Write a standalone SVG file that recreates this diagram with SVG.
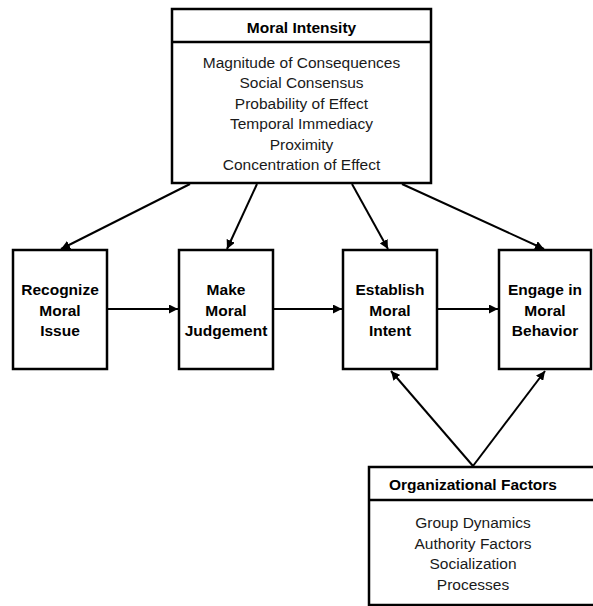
<svg xmlns="http://www.w3.org/2000/svg" width="593" height="606" viewBox="0 0 593 606">
<defs>
<style>
.box{fill:#fff;stroke:#000;stroke-width:2.5}
.div{stroke:#000;stroke-width:2.5}
.t{font-family:"Liberation Sans",Arial,sans-serif;font-size:15.5px;fill:#1a1a1a;text-anchor:middle}
.b{font-weight:bold;fill:#000}
.c{stroke:#000;stroke-width:2;fill:none;marker-end:url(#ah)}
</style>
<marker id="ah" viewBox="0 0 10 10" refX="10" refY="5" markerWidth="4.5" markerHeight="4.5" orient="auto" markerUnits="strokeWidth">
<path d="M0,0 L10,5 L0,10 z" fill="#000"/>
</marker>
</defs>
<rect width="593" height="606" fill="#fff"/>
<g id="connectors">
<line class="c" x1="190" y1="184" x2="61" y2="249"/>
<line class="c" x1="257" y1="184" x2="227" y2="249"/>
<line class="c" x1="352" y1="184" x2="388" y2="249"/>
<line class="c" x1="402" y1="184" x2="544" y2="249"/>
<line class="c" x1="107" y1="309" x2="178" y2="309"/>
<line class="c" x1="273" y1="309" x2="342" y2="309"/>
<line class="c" x1="437" y1="309" x2="498" y2="309"/>
<line class="c" x1="473" y1="466" x2="391" y2="371"/>
<line class="c" x1="473" y1="466" x2="545" y2="371"/>
</g>
<g id="moral-intensity">
<rect class="box" x="172" y="9" width="259" height="174"/>
<line class="div" x1="172" y1="42" x2="431" y2="42"/>
<text class="t b" x="301.5" y="32.5">Moral Intensity</text>
<text class="t" x="301.5" y="68">Magnitude of Consequences</text>
<text class="t" x="301.5" y="88">Social Consensus</text>
<text class="t" x="301.5" y="108.5">Probability of Effect</text>
<text class="t" x="301.5" y="129">Temporal Immediacy</text>
<text class="t" x="301.5" y="149.5">Proximity</text>
<text class="t" x="301.5" y="170">Concentration of Effect</text>
</g>
<g id="recognize">
<rect class="box" x="13" y="250" width="94" height="119"/>
<text class="t b" x="60" y="295">Recognize</text>
<text class="t b" x="60" y="316">Moral</text>
<text class="t b" x="60" y="336">Issue</text>
</g>
<g id="judgement">
<rect class="box" x="179" y="250" width="94" height="119"/>
<text class="t b" x="226" y="295">Make</text>
<text class="t b" x="226" y="316">Moral</text>
<text class="t b" x="226" y="336">Judgement</text>
</g>
<g id="intent">
<rect class="box" x="343" y="250" width="94" height="119"/>
<text class="t b" x="390" y="295">Establish</text>
<text class="t b" x="390" y="316">Moral</text>
<text class="t b" x="390" y="336">Intent</text>
</g>
<g id="behavior">
<rect class="box" x="499" y="250" width="92" height="119"/>
<text class="t b" x="545" y="295">Engage in</text>
<text class="t b" x="545" y="316">Moral</text>
<text class="t b" x="545" y="336">Behavior</text>
</g>
<g id="organizational">
<rect class="box" x="369" y="467" width="226" height="138"/>
<line class="div" x1="369" y1="500" x2="595" y2="500"/>
<text class="t b" x="473" y="489.5">Organizational Factors</text>
<text class="t" x="473" y="528">Group Dynamics</text>
<text class="t" x="473" y="549">Authority Factors</text>
<text class="t" x="473" y="569">Socialization</text>
<text class="t" x="473" y="590">Processes</text>
</g>
</svg>
